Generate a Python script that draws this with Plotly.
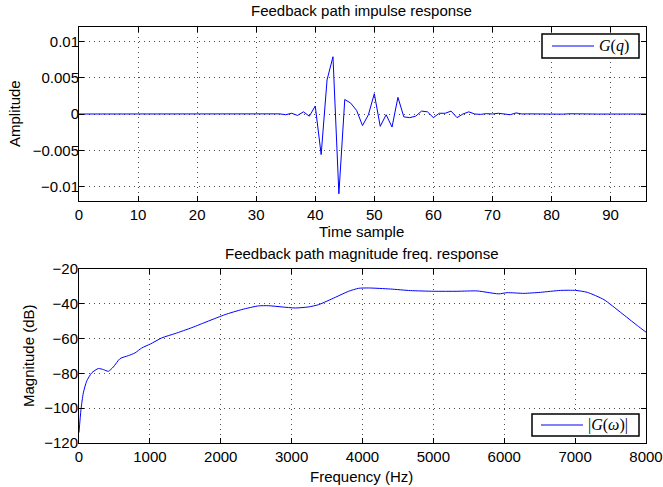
import plotly.graph_objects as go

# ---------------- data ----------------
samples = list(range(97))
impulse = [0.0] * 34 + [
    0.00002, -0.0001, 0.0001, -0.0002, 0.0003, -0.0003, 0.0011, -0.0056, 0.0047, 0.0079,
    -0.011, 0.0020, 0.0015, 0.0005, -0.0016, -0.0001, 0.0028, -0.0017, -0.0001, -0.0018,
    0.0023, -0.0004, -0.0005, -0.0003, 0.0004, 0.0003, -0.0005, 0.0001, 0.0001, 0.0004,
    -0.0005, 0.0, 0.0003, 0.0, -0.00005, 0.00005, 0.0, 0.0001, -0.00005, -0.0001,
    0.00015, 0.0, 0.00002, 0.0, 0.00005, 0.0, -0.00005, 0.00002, -0.00002, 0.00003,
    0.0, -0.00002, 0.00002, 0.0, -0.00001, 0.00001, 0.0, 0.00001, -0.00001, 0.0,
    0.0, 0.0, 0.0,
]

freq_hz = [0, 28, 61, 108, 179, 273, 344, 414, 485, 579, 697, 791, 885, 1008, 1168, 1356,
           1592, 1827, 2062, 2298, 2533, 2674, 2863, 3051, 3239, 3380, 3616, 3804, 3945,
           4086, 4393, 4675, 5004, 5335, 5617, 5758, 5923, 6041, 6276, 6511, 6794, 7006,
           7171, 7406, 7641, 7877, 8000]
mag_db = [-114, -100.8, -91.2, -84.5, -79.7, -77.2, -77.8, -78.8, -76.3, -71.5, -69.8,
          -68.2, -65.4, -63.1, -59.6, -57.1, -53.7, -49.9, -46.2, -43.3, -41.2, -41.1,
          -41.8, -42.4, -41.8, -40.5, -36.3, -32.8, -31.1, -30.9, -31.5, -32.4, -32.8,
          -32.8, -32.6, -33.4, -34.3, -33.6, -34.0, -33.4, -32.3, -32.3, -33.4, -37.6,
          -44.9, -52.5, -56.3]

top_xticks = [0, 10, 20, 30, 40, 50, 60, 70, 80, 90]
top_yticks = [-0.01, -0.005, 0, 0.005, 0.01]
top_yticktext = ["−0.01", "−0.005", "0", "0.005", "0.01"]
bot_xticks = [0, 1000, 2000, 3000, 4000, 5000, 6000, 7000, 8000]
bot_yticks = [-120, -100, -80, -60, -40, -20]
bot_yticktext = ["−120", "−100", "−80", "−60", "−40", "−20"]

legend_top = "<i>G</i>(<i>q</i>)"
legend_bot = "|<i>G</i>(<i>ω</i>)|"

# ---------------- figure ----------------
W, H = 663, 487
FONT = "Liberation Sans, Arial, sans-serif"
SERIF = "Liberation Serif, DejaVu Serif, serif"
BLUE = "rgb(0,0,255)"
FS = 15

def px_x(p):
    return p / W

def px_y(p):
    return 1 - p / H

fig = go.Figure()
fig.add_trace(go.Scatter(x=samples, y=impulse, mode="lines", line=dict(color=BLUE, width=1),
                         name=legend_top, xaxis="x", yaxis="y", showlegend=False))
fig.add_trace(go.Scatter(x=freq_hz, y=mag_db, mode="lines",
                         line=dict(color=BLUE, width=1, shape="spline", smoothing=0.6),
                         name=legend_bot, xaxis="x2", yaxis="y2", showlegend=False))

axis_common = dict(showline=True, linecolor="black", linewidth=1, mirror="allticks",
                   ticks="inside", ticklen=5, tickcolor="black", showgrid=True,
                   gridcolor="rgba(0,0,0,0.7)", griddash="1px,4px", gridwidth=1,
                   zeroline=False, automargin=False,
                   tickfont=dict(family=FONT, size=FS, color="black"))

xdom = [px_x(79), px_x(646)]
fig.update_layout(
    width=W, height=H, margin=dict(l=0, r=0, t=0, b=0, autoexpand=False),
    paper_bgcolor="white", plot_bgcolor="white",
    font=dict(family=FONT, size=FS, color="black"),
    showlegend=False,
    xaxis=dict(domain=xdom, anchor="y", range=[0, 96], tickvals=top_xticks,
               ticklabelstandoff=0, **axis_common),
    yaxis=dict(domain=[px_y(201), px_y(27)], anchor="x", range=[-0.012, 0.012],
               tickvals=top_yticks, ticktext=top_yticktext, ticklabelstandoff=-4, **axis_common),
    xaxis2=dict(domain=xdom, anchor="y2", range=[0, 8000], tickvals=bot_xticks,
                ticklabelstandoff=0, **axis_common),
    yaxis2=dict(domain=[px_y(443), px_y(269)], anchor="x2", range=[-120, -20],
                tickvals=bot_yticks, ticktext=bot_yticktext, ticklabelstandoff=-3, **axis_common),
)

# legend boxes (drawn like MATLAB legends)
def add_legend(x0, x1, y0, y1, lx0, lx1, tx, label):
    fig.add_shape(type="rect", xref="paper", yref="paper", layer="above",
                  x0=px_x(x0), x1=px_x(x1), y0=px_y(y1), y1=px_y(y0),
                  line=dict(color="black", width=1.5), fillcolor="white")
    ym = (y0 + y1) / 2
    fig.add_shape(type="line", xref="paper", yref="paper", layer="above",
                  x0=px_x(lx0), x1=px_x(lx1), y0=px_y(ym), y1=px_y(ym),
                  line=dict(color=BLUE, width=1.2))
    fig.add_annotation(xref="paper", yref="paper", showarrow=False, xanchor="left",
                       yanchor="middle", x=px_x(tx), y=px_y(ym), text=label,
                       font=dict(family=SERIF, size=16, color="black"))

add_legend(542, 639, 34, 58, 552, 594, 597, legend_top)
add_legend(532, 639, 414, 436, 541, 583, 586, legend_bot)

ann = [
    dict(text="Feedback path impulse response", x=px_x(362), y=px_y(11)),
    dict(text="Time sample", x=px_x(362), y=px_y(231)),
    dict(text="Amplitude", x=px_x(14), y=px_y(114), textangle=-90),
    dict(text="Feedback path magnitude freq. response", x=px_x(362), y=px_y(253)),
    dict(text="Frequency (Hz)", x=px_x(362), y=px_y(476)),
    dict(text="Magnitude (dB)", x=px_x(28), y=px_y(356), textangle=-90),
]
for a in ann:
    fig.add_annotation(xref="paper", yref="paper", showarrow=False, xanchor="center",
                       yanchor="middle", font=dict(family=FONT, size=FS, color="black"), **a)

fig.write_html("out.html")
